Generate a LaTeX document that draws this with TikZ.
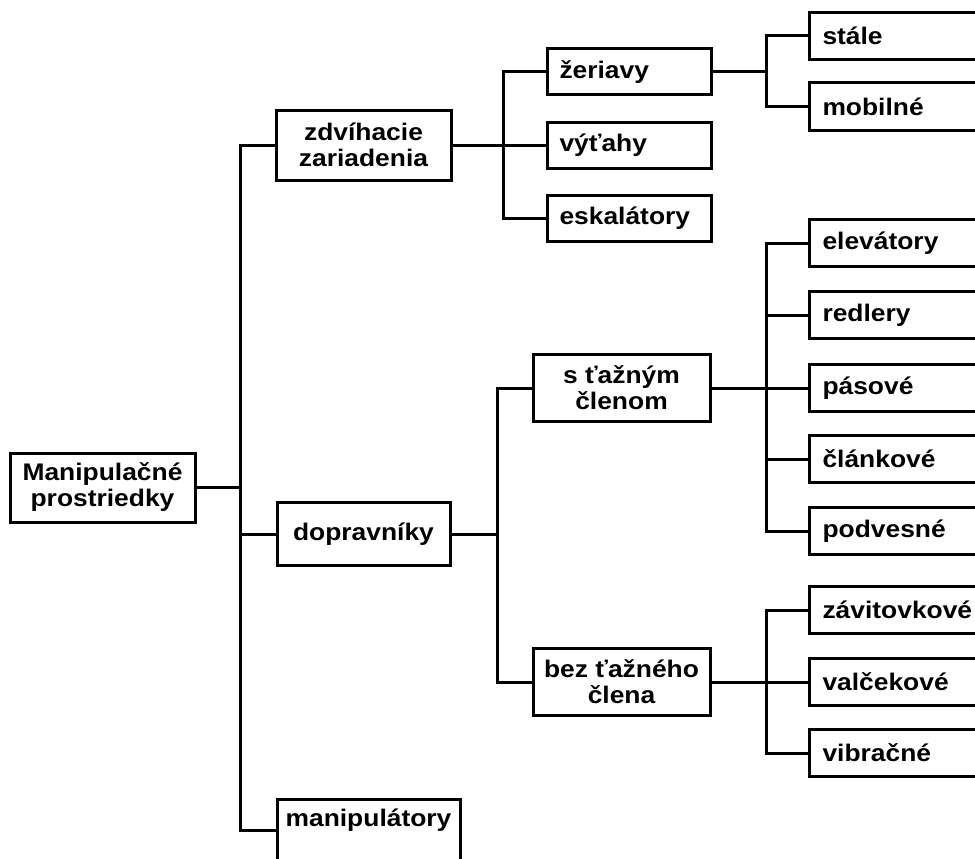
\documentclass[tikz,border=0pt]{standalone}
\usepackage{fontspec}
\setmainfont{Liberation Sans}[FakeStretch=1.1]
\usepackage{tikz}

\begin{document}
\begin{tikzpicture}[x=1pt,y=-1pt,
  box/.style={draw,line width=3pt,font=\fontsize{24}{26}\selectfont\bfseries,align=center,inner sep=0pt},
  midbox/.style={box,anchor=west,minimum width=164pt,minimum height=46pt,text width=140pt,align=left},
  leaf/.style={box,anchor=west,minimum width=200pt,minimum height=47pt,text width=174pt,align=left},
  conn/.style={line width=3pt}]
\useasboundingbox (0,0) rectangle (975,859);

\node[box,minimum width=185pt,minimum height=69pt] (root) at (102.5,487.5) {Manipulačné\\prostriedky};
\node[box,minimum width=175pt,minimum height=70pt] (lift) at (363.5,145) {zdvíhacie\\zariadenia};
\node[box,minimum width=173pt,minimum height=63pt] (conv) at (363.5,534) {dopravníky};
\node[box,minimum width=183pt,minimum height=62pt,text depth=24pt] (manip) at (368.5,830) {manipulátory};

\node[midbox] (crane) at (546,72) {žeriavy};
\node[midbox] (lifts) at (546,145) {výťahy};
\node[midbox] (esc) at (546,218.5) {eskalátory};
\node[box,minimum width=177pt,minimum height=67pt] (tow) at (621.5,388) {s ťažným\\členom};
\node[box,minimum width=177pt,minimum height=67pt] (notow) at (621.5,682) {bez ťažného\\člena};

\node[leaf] (stale) at (808,36) {stále};
\node[leaf] (mobil) at (808,106.5) {mobilné};
\node[leaf] (elev) at (808,243) {elevátory};
\node[leaf] (redl) at (808,315) {redlery};
\node[leaf] (belt) at (808,388) {pásové};
\node[leaf] (clan) at (808,459) {článkové};
\node[leaf] (susp) at (808,531) {podvesné};
\node[leaf] (zavit) at (808,610) {závitovkové};
\node[leaf] (valc) at (808,682) {valčekové};
\node[leaf] (vibr) at (808,753) {vibračné};

\coordinate (b0) at (240,0);
\coordinate (b1) at (503,0);
\coordinate (b2) at (766,0);
\coordinate (b3) at (497,0);

\draw[conn] (root.east) -- (root.east -| b0);
\draw[conn] (lift.west) -- (lift.west -| b0) |- (manip.west);
\draw[conn] (conv.west) -- (conv.west -| b0);

\draw[conn] (lift.east) -- (lifts.west);
\draw[conn] (crane.west) -- (crane.west -| b1) |- (esc.west);

\draw[conn] (crane.east) -- (crane.east -| b2);
\draw[conn] (stale.west) -- (stale.west -| b2) |- (mobil.west);

\draw[conn] (conv.east) -- (conv.east -| b3);
\draw[conn] (tow.west) -- (tow.west -| b3) |- (notow.west);

\draw[conn] (tow.east) -- (belt.west);
\draw[conn] (elev.west) -- (elev.west -| b2) |- (susp.west);
\draw[conn] (redl.west) -- (redl.west -| b2);
\draw[conn] (clan.west) -- (clan.west -| b2);

\draw[conn] (notow.east) -- (valc.west);
\draw[conn] (zavit.west) -- (zavit.west -| b2) |- (vibr.west);
\end{tikzpicture}
\end{document}
